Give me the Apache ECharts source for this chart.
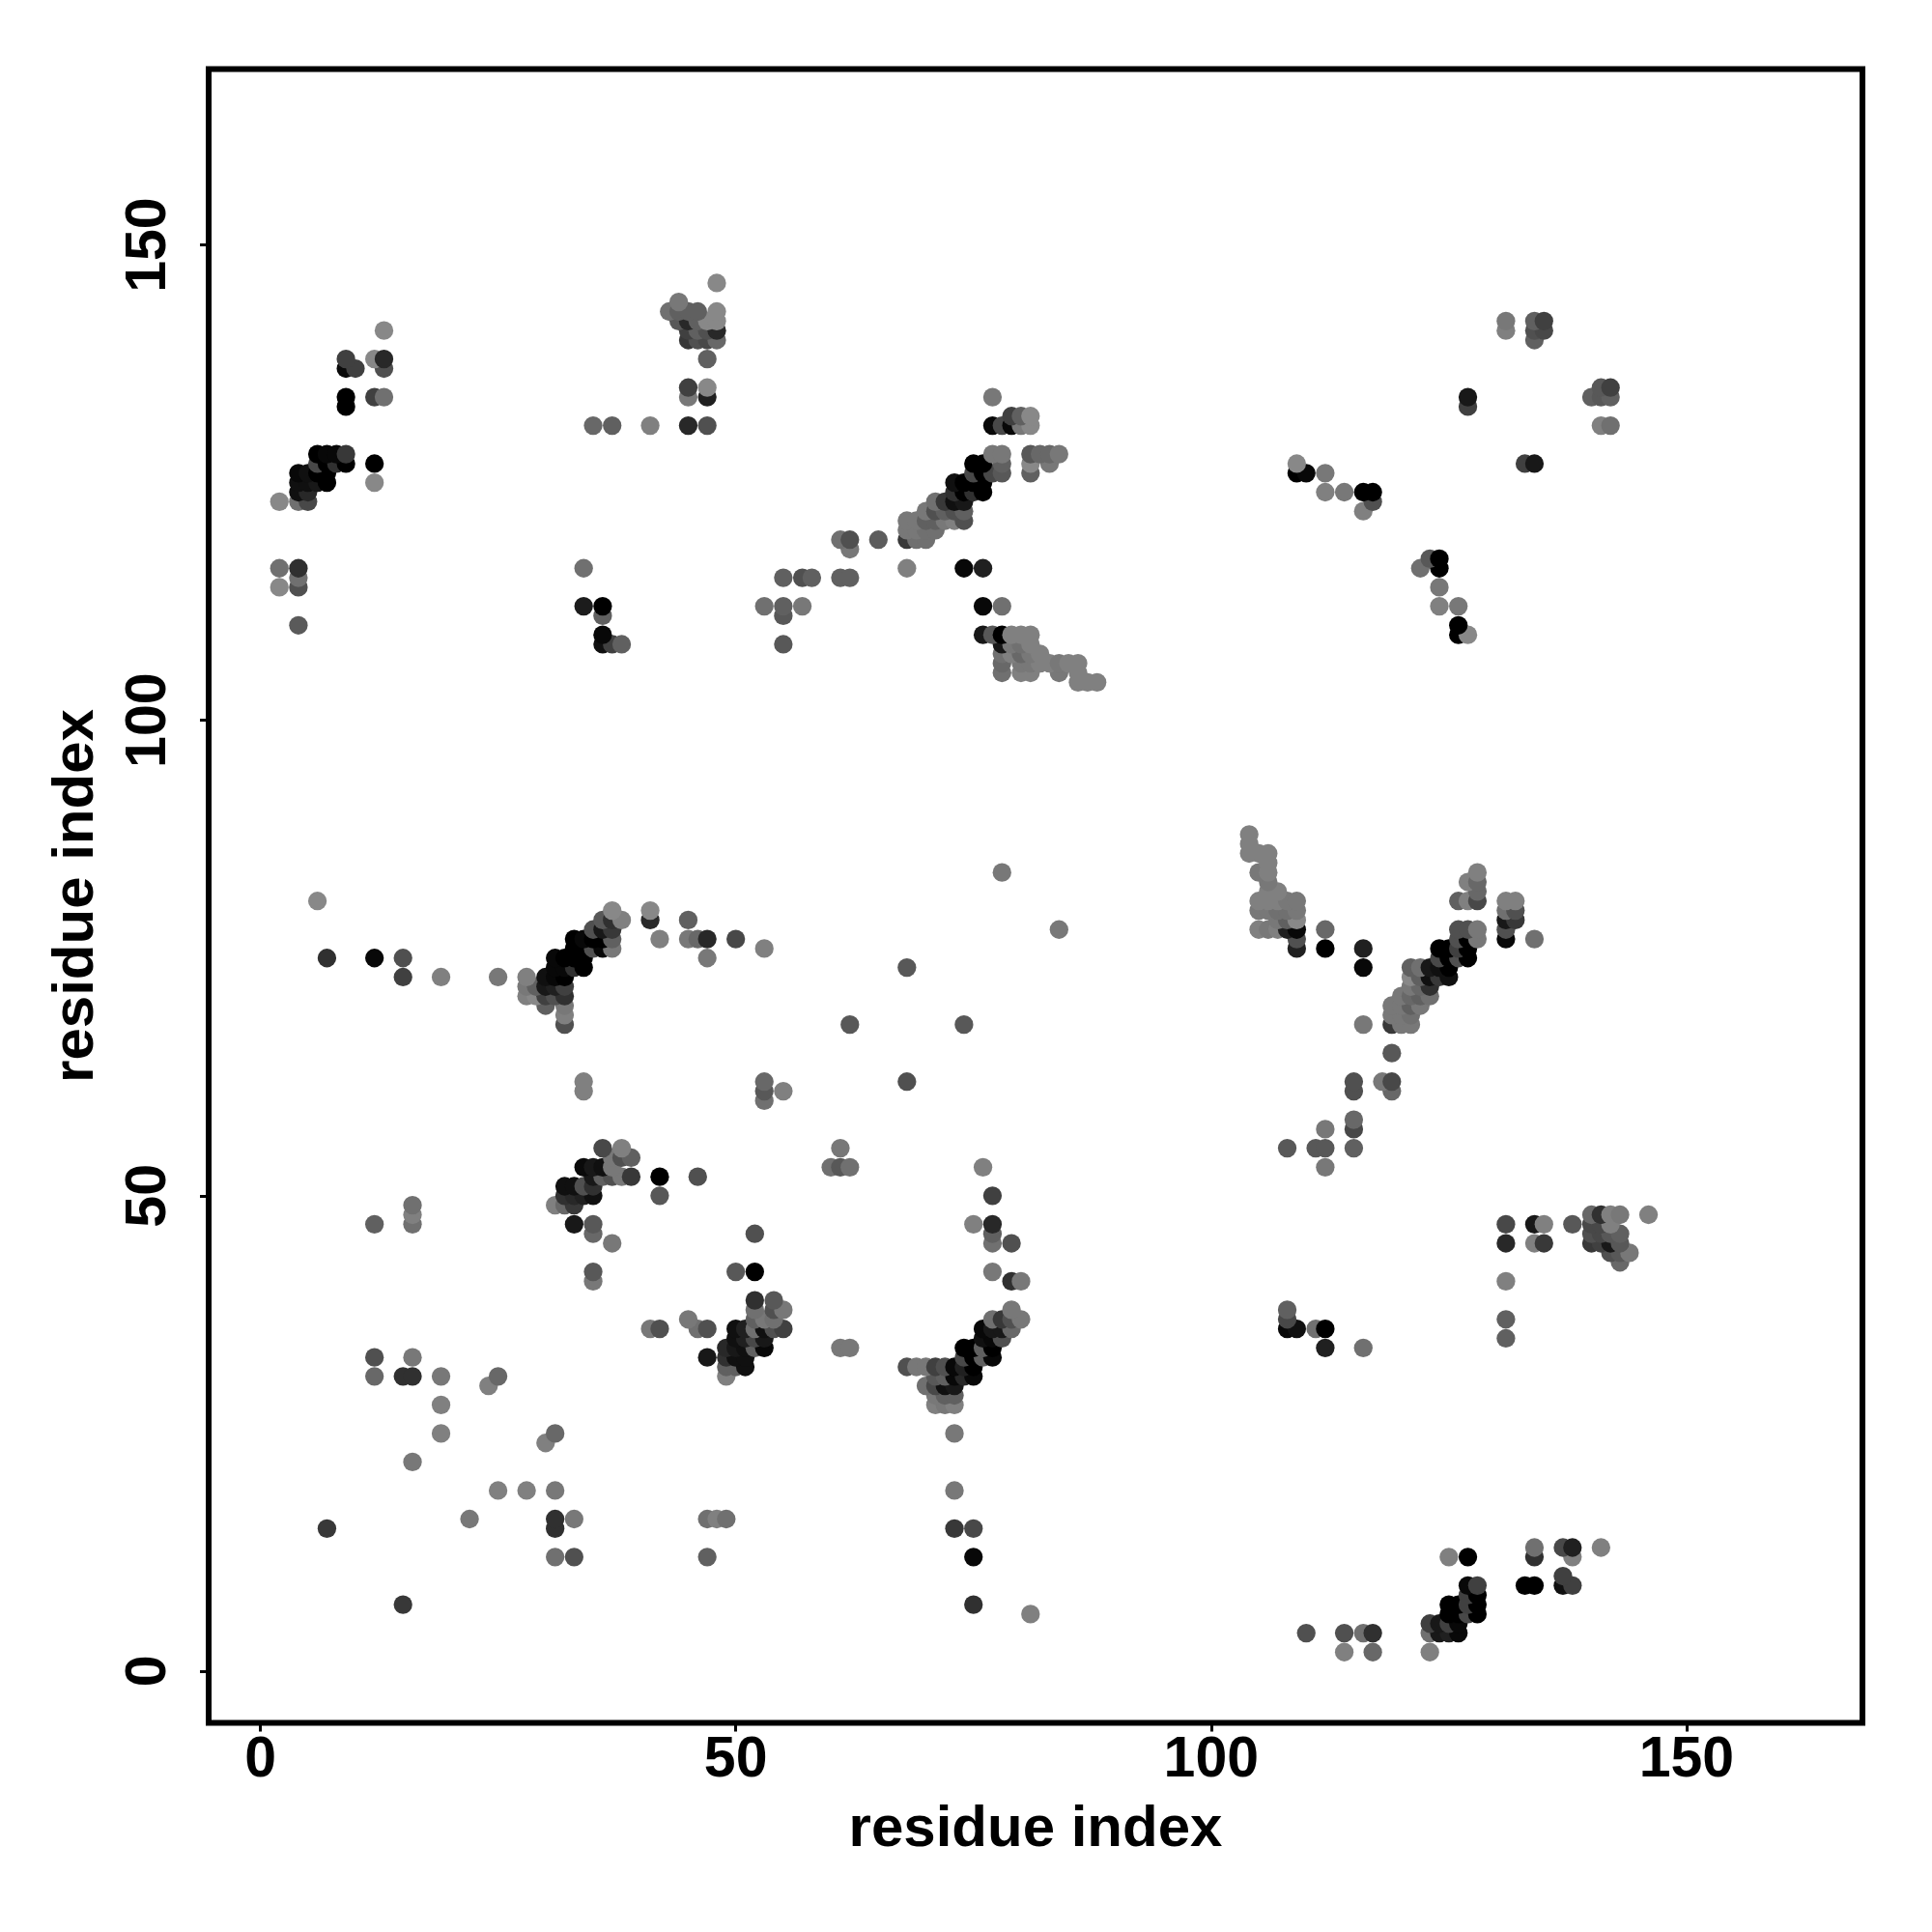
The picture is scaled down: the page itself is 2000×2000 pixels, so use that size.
<!DOCTYPE html>
<html><head><meta charset="utf-8">
<style>html,body{margin:0;padding:0;background:#fff}#c{width:2000px;height:2000px}</style>
<script src="https://cdn.jsdelivr.net/npm/echarts@6/dist/echarts.min.js"></script>
</head><body><div id="c"></div>
<script>
// each contact: [residue x, residue y, grey level of the point]
const tickValues = [0, 50, 100, 150];
const axisTitle = 'residue index';
const upperLeftA = [[13,141,0x88],[9,138,0x40],[12,138,0x88],[13,138,0x28],[9,137,0x0a],[10,137,0x40],[13,137,0x50],[9,134,0],[9,133,0],[12,134,0x40],[13,134,0x70],
[6,128,0],[7,128,0x08],[8,128,0x08],[9,128,0x38],[12,127,0],[12,125,0x88],[6,127,0x48],[7,127,0],[8,127,0x30],[9,127,0],
[4,126,0x08],[5,126,0x10],[6,126,0],[7,126,0],[4,125,0x10],[5,125,0x10],[6,125,0x18],[7,125,0],[4,124,0x10],[5,124,0x28],[2,123,0x88],[4,123,0x70],[5,123,0x48],
[2,116,0x70],[4,116,0x30],[4,115,0x70],[2,114,0x88],[4,114,0x50],[4,110,0x5a]];
const upperMiddleA = [[48,146,0x88],[44,144,0x78],[43,143,0x70],[44,143,0x60],[45,143,0x60],[46,143,0x60],[48,143,0x88],[44,142,0x58],[45,142,0x28],[46,142,0x60],[47,142,0x88],[48,142,0x88],
[45,141,0x40],[46,141,0x60],[47,141,0x50],[48,141,0x28],[45,140,0x38],[46,140,0x50],[47,140,0x48],[48,140,0x68],[47,138,0x60],[45,135,0x40],[47,135,0x88],[45,134,0x78],[47,134,0x20],
[35,131,0x68],[37,131,0x60],[41,131,0x80],[45,131,0x28],[47,131,0x50],[34,116,0x70],[34,112,0x1c],[36,112,0],[36,111,0x60],[36,109,0x08],[36,108,0x10],[37,108,0x40],[38,108,0x60]];
const upperMiddleB = [[53,112,0x70],[55,112,0x60],[55,111,0x58],[57,112,0x78],[55,108,0x58],[55,115,0x60],[57,115,0x50],[58,115,0x60],[61,115,0x60],[62,115,0x60],[61,119,0x70],[62,119,0x50],[62,118,0x78],[65,119,0x5c],
[68,116,0x80],[74,116,0x08],[76,116,0x20],[76,112,0x08],[78,112,0x70]];
const lowerArm = [[76,109,0x18],[77,109,0x58],[78,109,0],[79,109,0x80],[80,109,0x80],[81,109,0x80],[78,108,0x18],[79,108,0x78],[80,108,0x70],[81,108,0x80],
[78,107,0x70],[79,107,0x80],[80,107,0x68],[81,107,0x78],[82,107,0x80],[78,106,0x68],[80,106,0x78],[81,106,0x78],[82,106,0x80],[83,106,0x80],[84,106,0x78],[85,106,0x80],[86,106,0x80],
[78,105,0x70],[80,105,0x80],[81,105,0x80],[84,105,0x78],[86,105,0x80],[86,104,0x80],[87,104,0x80],[88,104,0x80]];
const diagonalArm = [[77,134,0x78],[79,132,0x40],[80,132,0x60],[81,132,0x88],[77,131,0x08],[78,131,0x48],[79,131,0x08],[80,131,0x78],[81,131,0x88],
[77,128,0x78],[78,128,0x78],[81,128,0x58],[82,128,0x68],[83,128,0x68],[84,128,0x78],[75,127,0],[76,127,0],[78,127,0x60],[81,127,0x88],[83,127,0x78],
[75,126,0x48],[76,126,0],[77,126,0x48],[78,126,0x58],[81,126,0x60],[73,125,0x10],[74,125,0],[75,125,0],[76,125,0],[73,124,0x30],[74,124,0],[75,124,0x30],[76,124,0],
[71,123,0x70],[72,123,0x38],[73,123,0x10],[74,123,0x18],[70,122,0x78],[71,122,0x50],[72,122,0x60],[73,122,0x50],[74,122,0x60],
[68,121,0x78],[69,121,0x78],[70,121,0x60],[71,121,0x60],[72,121,0x78],[73,121,0x80],[74,121,0x50],[68,120,0x78],[69,120,0x78],[70,120,0x70],[71,120,0x70],[68,119,0x38],[69,119,0x70],[70,119,0x70]];
const upperRight = [[131,142,0x78],[131,141,0x80],[134,142,0x60],[135,142,0x40],[134,141,0x50],[135,141,0x48],[134,140,0x60],[142,135,0x40],[141,135,0x58],[140,134,0x60],[141,134,0x58],[142,134,0x60],[141,131,0x80],[142,131,0x70],
[127,134,0x18],[127,133,0x40],[133,127,0x40],[134,127,0x18],[109,127,0x88],[109,126,0],[110,126,0x08],[112,126,0x78],[112,124,0x80],[114,124,0x78],[116,124,0],[117,124,0],[117,123,0x50],[116,122,0x80],
[123,117,0x58],[124,117,0],[122,116,0x70],[124,116,0],[124,114,0x78],[124,112,0x80],[126,112,0x78],[126,110,0],[126,109,0],[127,109,0x88]];
const middleLeft = [[6,81,0x88],[7,75,0x30],[12,75,0x08],[15,75,0x50],[15,73,0x40],[19,73,0x80],[25,73,0x78],[28,73,0x80],[28,72,0x78],[29,72,0x60],[30,72,0x18],[31,72,0x20],[32,72,0x40],
[28,71,0x80],[29,71,0x88],[30,71,0x40],[31,71,0x50],[32,71,0x30],[30,70,0x60],[32,70,0x78],[32,69,0x80],[32,68,0x50],[30,73,0x10],[31,73,0x08],[32,73,0],
[31,74,0x08],[32,74,0x08],[33,74,0x30],[34,74,0],[31,75,0x08],[32,75,0],[33,75,0],[34,75,0],[33,76,0],[34,76,0],[35,76,0x50],[36,76,0x08],[37,76,0x78],[33,77,0],[34,77,0x08],[35,77,0],[36,77,0],[37,77,0x60],
[35,78,0x50],[36,78,0x18],[37,78,0x38],[36,79,0x58],[37,79,0x30],[38,79,0x80],[37,80,0x88],[41,80,0x88],[41,79,0x28],[42,77,0x80],[45,79,0x60],[45,77,0x78],[46,77,0x68],[47,77,0x28],[50,77,0x48],[53,76,0x80],[47,75,0x78],
[34,62,0x80],[34,61,0x80],[53,62,0x68],[53,61,0x58],[53,60,0x70],[55,61,0x80]];
const centreLeft = [[36,55,0x48],[38,55,0x80],[39,54,0x60],[37,54,0x78],[38,54,0x50],[34,53,0x0a],[35,53,0x18],[36,53,0x10],[37,53,0x78],[35,52,0x18],[36,52,0x60],[37,52,0x50],[38,52,0x78],[39,52,0x38],[42,52,0],[46,52,0x50],
[32,51,0x10],[33,51,0x10],[34,51,0x50],[35,51,0x30],[32,50,0x30],[33,50,0x28],[34,50,0x20],[35,50,0x10],[42,50,0x58],[31,49,0x80],[32,49,0x68],[33,49,0x38],
[16,49,0x70],[16,48,0x80],[16,47,0x70],[12,47,0x60],[33,47,0x18],[35,47,0x58],[35,46,0x68],[37,45,0x78],[35,42,0x58],[35,41,0x78],[52,46,0x50],[50,42,0x58],[52,42,0]];
const lowerMiddleA = [[52,39,0x30],[54,39,0x58],[55,38,0x78],[54,38,0x50],[52,38,0x70],[45,37,0x78],[52,37,0x60],[53,37,0x78],[54,37,0x70],[41,36,0x78],[42,36,0x50],[46,36,0x70],[47,36,0x50],
[50,36,0x10],[51,36,0x20],[52,36,0x70],[53,36,0x10],[54,36,0x50],[55,36,0x40],[50,35,0x10],[51,35,0x20],[52,35,0x48],[53,35,0x18],[49,34,0x28],[50,34,0x18],[51,34,0x10],[52,34,0x60],[53,34,0x08],
[47,33,0x18],[49,33,0x30],[50,33,0x10],[51,33,0x10],[49,32,0x60],[50,32,0x60],[51,32,0x10],[49,31,0x80]];
const lowerMiddleB = [[61,55,0x78],[60,53,0x70],[61,53,0x58],[62,53,0x70],[76,53,0x80],[77,50,0x40],[75,47,0x80],[77,47,0x28],[77,46,0x60],[77,45,0x70],[79,45,0x50],[77,42,0x78],[79,41,0x30],[80,41,0x78],[61,34,0x78],[62,34,0x78],
[79,38,0x78],[77,37,0x70],[78,37,0x38],[79,37,0x50],[80,37,0x78],[76,36,0x08],[77,36,0x18],[78,36,0x18],[79,36,0x68],[76,35,0x10],[77,35,0x08],[78,35,0x50],[74,34,0],[75,34,0],[76,34,0x60],[77,34,0],
[74,33,0x48],[75,33,0],[76,33,0x60],[77,33,0x08],[68,32,0x50],[69,32,0x78],[70,32,0x78],[71,32,0x40],[72,32,0x50],[73,32,0x08],[74,32,0x20],[75,32,0],[71,31,0x58],[72,31,0x60],[73,31,0x08],[74,31,0x28],[75,31,0x08],
[70,30,0x70],[71,30,0x48],[72,30,0x10],[73,30,0x18],[71,29,0x78],[72,29,0x60],[73,29,0x60],[71,28,0x80],[72,28,0x78],[73,28,0x80],[73,25,0x78]];
const lowerLeft = [[12,33,0x50],[16,33,0x78],[12,31,0x68],[15,31,0x30],[16,31,0x30],[19,31,0x78],[25,31,0x68],[24,30,0x80],[19,28,0x80],[19,25,0x80],[16,22,0x78],[31,25,0x68],[30,24,0x80],[25,19,0x80],[28,19,0x80],[31,19,0x78],
[22,16,0x78],[31,16,0x30],[33,16,0x78],[31,15,0x30],[7,15,0x38],[31,12,0x70],[33,12,0x50],[47,12,0x60],[47,16,0x70],[48,16,0x80],[49,16,0x70],[15,7,0x38],[73,15,0x38],[75,15,0x48],[75,12,0x08],[75,7,0x30],[81,6,0x80],[73,19,0x78],
[62,68,0x58],[68,74,0x58],[68,62,0x50],[74,68,0x58],[78,84,0x78],[84,78,0x78]];
const middleRightA = [[104,88,0x80],[104,87,0x80],[104,86,0x80],[105,86,0x80],[106,86,0x80],[106,85,0x80],[105,84,0x78],[106,84,0x80],[106,83,0x78],[106,82,0x80],[107,82,0x80],
[105,81,0x80],[106,81,0x80],[107,81,0x80],[108,81,0x78],[109,81,0x78],[105,80,0x78],[106,80,0x78],[107,80,0x70],[108,80,0x70],[109,80,0x78],[107,79,0x78],[108,79,0x60],[109,79,0x88],
[105,78,0x80],[106,78,0x78],[107,78,0x80],[108,78,0x20],[109,78,0x08],[112,78,0x68],[109,77,0x50],[109,76,0x20],[112,76,0],[116,76,0x20],[116,74,0x08],
[116,68,0x78],[119,65,0x58],[115,62,0x50],[115,61,0x50],[118,62,0x78],[119,62,0x48],[119,61,0x68],[115,58,0x68],[115,57,0x48],[112,57,0x78],[108,55,0x58],[111,55,0x58],[112,55,0x58],[115,55,0x60],[112,53,0x78]];
const middleRightB = [[128,84,0x80],[127,83,0x80],[128,83,0x68],[128,82,0x68],[126,81,0x60],[127,81,0x80],[128,81,0x48],[131,81,0x80],[132,81,0x80],[131,80,0x70],[132,80,0x50],[131,79,0x18],[132,79,0x38],[131,78,0x50],[131,77,0x08],[134,77,0x70],
[126,78,0x50],[127,78,0x50],[128,78,0x78],[126,77,0x50],[127,77,0],[128,77,0x78],[124,76,0],[125,76,0],[126,76,0x40],[127,76,0],[124,75,0x48],[125,75,0],[126,75,0x50],[127,75,0],
[121,74,0x60],[122,74,0x70],[123,74,0x18],[124,74,0x10],[125,74,0],[121,73,0x88],[122,73,0x60],[123,73,0x10],[124,73,0x38],[125,73,0x10],[121,72,0x78],[122,72,0x68],[123,72,0x30],
[120,71,0x78],[121,71,0x68],[122,71,0x60],[123,71,0x70],[119,70,0x78],[120,70,0x78],[121,70,0x60],[122,70,0x78],[119,69,0x78],[120,69,0x78],[121,69,0x70],[119,68,0x38],[120,68,0x78],[121,68,0x78]];
const lowerRightA = [[108,38,0x60],[108,37,0x48],[108,36,0x08],[109,36,0x10],[111,36,0x70],[112,36,0],[112,34,0x20],[116,34,0x70],[131,47,0x48],[131,45,0x28],[134,47,0x18],[135,47,0x80],[134,45,0x80],[135,45,0x38],[138,47,0x58],[131,41,0x80],[131,37,0x60],[131,35,0x60],
[140,48,0x68],[141,48,0x30],[142,48,0x80],[143,48,0x78],[146,48,0x80],[140,47,0x48],[141,47,0x48],[142,47,0x80],[140,46,0x50],[141,46,0x48],[142,46,0x58],[143,46,0x60],[140,45,0x38],[141,45,0x40],[142,45,0x18],[143,45,0x58],[142,44,0x50],[143,44,0x58],[144,44,0x78],[143,43,0x68]];
const lowerRightB = [[125,12,0x80],[127,12,0],[134,13,0x70],[134,12,0x30],[137,13,0x48],[138,13,0x20],[138,12,0x80],[141,13,0x80],[137,10,0x40],[137,9,0x10],[138,9,0x40],[133,9,0],[134,9,0],[127,9,0x08],[128,9,0x40],[127,8,0x40],[128,8,0],
[125,7,0],[126,7,0],[127,7,0x40],[128,7,0],[125,6,0],[126,6,0],[127,6,0x48],[128,6,0],[123,5,0x40],[124,5,0x18],[125,5,0x40],[126,5,0x08],[123,4,0x70],[124,4,0x18],[125,4,0x20],[126,4,0x08],[123,2,0x80],
[110,4,0x50],[114,4,0x50],[116,4,0x70],[117,4,0x30],[114,2,0x80],[117,2,0x68]];

const contacts = [].concat(upperLeftA, upperMiddleA, upperMiddleB, lowerArm, diagonalArm, upperRight, middleLeft, centreLeft, lowerMiddleA, lowerMiddleB, lowerLeft, middleRightA, middleRightB, lowerRightA, lowerRightB)
  .slice().sort((a, b) => a[1] - b[1] || a[0] - b[0]);

const font = '"Liberation Sans", Arial, sans-serif';
function axis(isY) {
  return {
    type: 'value', min: -5.44, max: 168.5,
    name: axisTitle, nameLocation: 'middle', nameGap: isY ? 107 : 81,
    nameTextStyle: { fontFamily: font, fontWeight: 'bold', fontSize: 60, color: '#000' },
    splitLine: { show: false },
    axisLine: { show: false, onZero: false },
    axisTick: { show: true, length: 9, customValues: tickValues, lineStyle: { color: '#000', width: 3 } },
    axisLabel: { show: true, customValues: tickValues, rotate: isY ? 90 : 0, margin: isY ? 32 : 10, hideOverlap: false,
      fontFamily: font, fontWeight: 'bold', fontSize: 59, color: '#000' }
  };
}
const chart = echarts.init(document.getElementById('c'), null, { renderer: 'canvas', width: 2000, height: 2000 });
chart.setOption({
  animation: false,
  backgroundColor: '#fff',
  grid: { left: 216, top: 71.5, width: 1712, height: 1712, show: true, borderColor: '#000', borderWidth: 6, backgroundColor: 'transparent' },
  xAxis: axis(false),
  yAxis: axis(true),
  visualMap: { show: false, type: 'continuous', dimension: 2, min: 0, max: 136, inRange: { color: ['#000000', '#888888'] } },
  series: [{ type: 'scatter', symbol: 'circle', symbolSize: 19.3, data: contacts, clip: false, large: false, itemStyle: { opacity: 1 } }]
});
</script></body></html>
